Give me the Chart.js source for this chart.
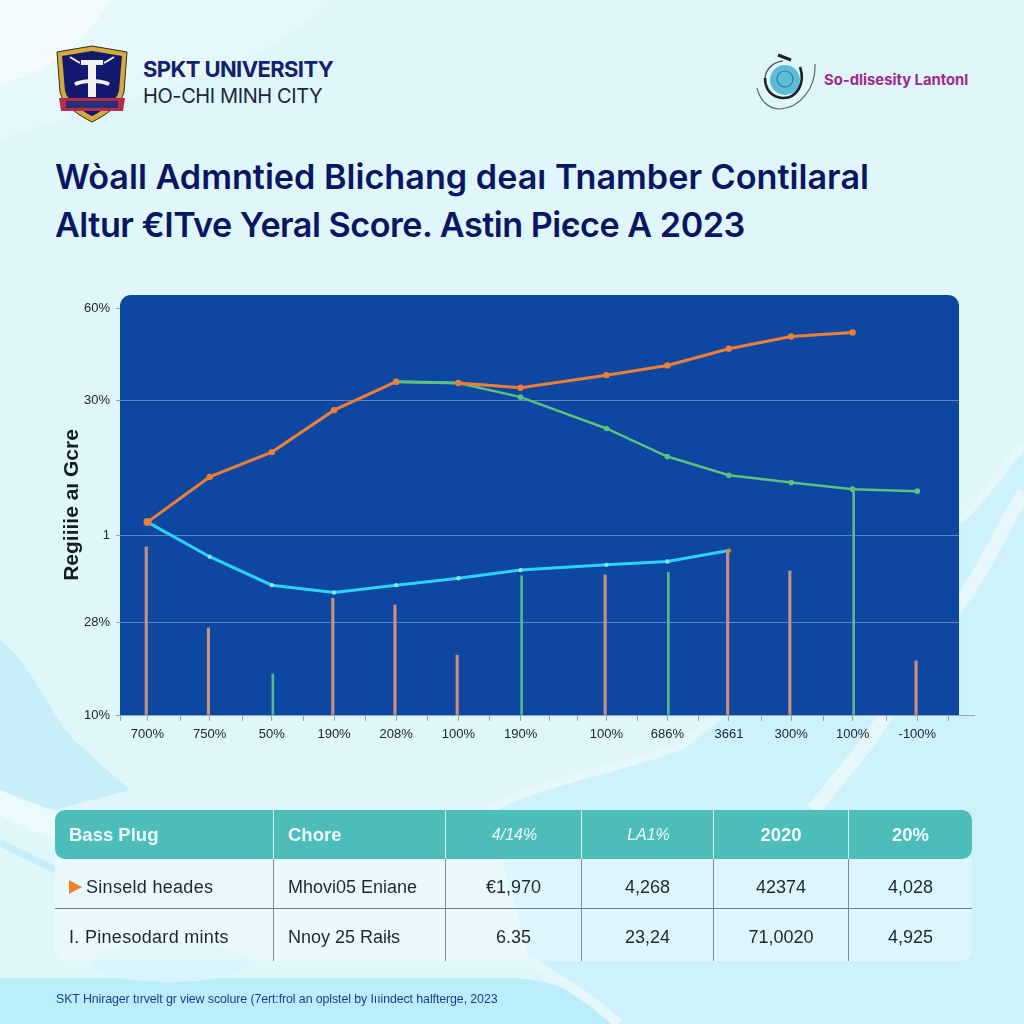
<!DOCTYPE html>
<html>
<head>
<meta charset="utf-8">
<title>SPKT chart</title>
<script src="https://cdn.jsdelivr.net/npm/chart.js@4"></script>
<style>
  html, body { margin: 0; padding: 0; }
  body { width: 1024px; height: 1024px; position: relative; overflow: hidden; font-family: "Liberation Sans", sans-serif; background: #dcf5fb; }
  .abs { position: absolute; white-space: nowrap; }
  #bg, #myChart { position: absolute; left: 0; top: 0; }
  .uni { left: 143px; top: 56px; font: 700 22px/26px Inter, sans-serif; color: #14216e; letter-spacing: -0.6px; }
  .city { left: 143px; top: 85px; font: 400 20px/22px Inter, sans-serif; color: #20263c; letter-spacing: -0.4px; }
  .partner { left: 824px; top: 71px; font: 700 14.8px/18px Inter, sans-serif; color: #a2298f; }
  .title { left: 55px; font: 600 34.2px/44px Inter, sans-serif; color: #0a1663; }
  table { position: absolute; left: 55px; top: 810px; width: 917px; border-collapse: separate; border-spacing: 0; table-layout: fixed; font-size: 18px; color: #1d2733; }
  th { height: 49px; background: #4cbdb9; color: #eefcfb; font-weight: 700; font-size: 18.5px; padding: 0; border-right: 1px solid #d8f2f0; }
  th:first-child { border-top-left-radius: 10px; border-bottom-left-radius: 10px; }
  th:last-child { border-top-right-radius: 10px; border-bottom-right-radius: 10px; border-right: 0; }
  td { padding: 0; background: rgba(255,255,255,.32); border-right: 1px solid #7d8c96; text-align: center; }
  td:last-child { border-right: 0; }
  tr.r1 td { height: 50px; padding-top: 7px; box-sizing: border-box; border-bottom: 1px solid #6f7d88; }
  tr.r2 td { height: 52px; padding-top: 5px; box-sizing: border-box; }
  tr.r2 td:first-child { border-bottom-left-radius: 10px; }
  tr.r2 td:last-child { border-bottom-right-radius: 10px; }
  table td.left, table th.left { text-align: left; padding-left: 14px; }
  th.ital { font-style: italic; font-weight: 400; font-size: 16px; padding-left: 2px; }
  .tri { display: inline-block; width: 0; height: 0; border-left: 13px solid #e8842c; border-top: 7px solid transparent; border-bottom: 7px solid transparent; margin-right: 4px; vertical-align: -1px; }
  .wide { letter-spacing: 0.3px; }
  .foot { left: 56px; top: 992px; font-size: 12.4px; line-height: 15px; color: #1c3d8f; letter-spacing: -0.1px; }
</style>
</head>
<body>

<svg id="bg" width="1024" height="1024" viewBox="0 0 1024 1024">
  <rect width="1024" height="1024" fill="#dff6fb"/>
  <path d="M0 0H110C80 50 50 70 0 85Z" fill="#f3fbfc"/>
  <path d="M0 85C50 70 80 50 110 0H330C270 70 120 100 0 140Z" fill="#e7f8fb"/>
  <!-- right hand blue area, under the panel and the table -->
  <path d="M1024 445C1000 470 980 505 959 520L683 745C620 770 540 780 489 810L530 962C570 985 600 1005 618 1024H1024Z" fill="#cdf2fc"/>
  <path d="M1024 445C1000 470 980 505 959 520L683 745C620 770 540 780 489 810" fill="none" stroke="#e6f8fc" stroke-width="8"/>
  <path d="M1024 493C1000 530 980 580 959 603L866 745L813 810" fill="none" stroke="#e6f8fc" stroke-width="14"/>
  <!-- left hand blue area -->
  <path d="M0 640C35 665 55 730 85 750C100 765 120 780 130 790L55 810C35 805 20 798 0 790Z" fill="#c8eefa"/>
  <path d="M0 790C20 798 35 805 55 812L55 840C35 832 20 825 0 815Z" fill="#eafafd"/>
  <path d="M0 843L55 870" fill="none" stroke="#c8eefa" stroke-width="7"/>
  <!-- bottom band -->
  <path d="M0 978H510C560 978 600 1005 618 1024H0Z" fill="#bbeefc"/>
  <path d="M530 962C570 985 600 1005 618 1024" fill="none" stroke="#e6f8fc" stroke-width="10"/>
  <ellipse cx="170" cy="962" rx="80" ry="20" fill="#d8f5fb"/>
</svg>

<svg class="abs" style="left:56px;top:45px" width="72" height="78" viewBox="0 0 72 78">
  <path d="M1 7L36 1L71 7L68 47C65 60 50 70 36 77C22 70 7 60 4 47Z" fill="#d5aa3c" stroke="#2a2a26" stroke-width="1"/>
  <path d="M6 11L36 6L66 11L63 46C60 57 48 65 36 71C24 65 12 57 9 46Z" fill="#12196e"/>
  <path d="M25 15H47V20H40V52H32V20H25Z" fill="#f2f2f2"/>
  <path d="M18 38C24 33 48 33 54 38L52 41C46 37 26 37 20 41Z" fill="#f2f2f2"/>
  <path d="M14 12L24 18M58 12L48 18" stroke="#f2f2f2" stroke-width="2"/>
  <path d="M3 53L69 53L67 66L5 66Z" fill="#b32b4d"/>
  <path d="M10 56H62V63H10Z" fill="#2a2f7a"/>
</svg>
<div class="abs uni">SPKT UNIVERSITY</div>
<div class="abs city">HO-CHI MINH CITY</div>

<svg class="abs" style="left:752px;top:50px" width="70" height="64" viewBox="0 0 70 64">
  <circle cx="33" cy="30" r="15" fill="#5fbcd9"/>
  <circle cx="33" cy="29" r="8" fill="none" stroke="#2f7f9c" stroke-width="1.2"/>
  <path d="M48 17C54 34 44 49 30 48C20 47 13 40 13 28" fill="none" stroke="#1f2226" stroke-width="2.6"/>
  <path d="M13 28C14 18 22 12 31 11" fill="none" stroke="#55606a" stroke-width="1.4"/>
  <path d="M26 5L39 10" stroke="#1f2226" stroke-width="3"/>
  <path d="M63 14C64 38 48 58 28 59C16 59 8 50 5 38" fill="none" stroke="#5c6770" stroke-width="1.2"/>
</svg>
<div class="abs partner">So-dlisesity Lantonl</div>

<div class="abs title" style="top:155px">Wòall Admntied Blichang deaı Tnamber Contilaral</div>
<div class="abs title" style="top:203px;letter-spacing:-0.5px">Altur €ITve Yeral Score. Astin Piєce A 2023</div>

<canvas id="myChart" width="1024" height="1024"></canvas>

<table>
  <colgroup>
    <col style="width:219px"><col style="width:172px"><col style="width:136px"><col style="width:132px"><col style="width:135px"><col style="width:123px">
  </colgroup>
  <tr>
    <th class="left">Bass Plug</th><th class="left">Chore</th><th class="ital">4/14%</th><th class="ital">LA1%</th><th>2020</th><th>20%</th>
  </tr>
  <tr class="r1">
    <td class="left wide"><span class="tri"></span>Sinseld heades</td><td class="left">Mhovi05 Eniane</td><td>€1,970</td><td>4,268</td><td>42374</td><td>4,028</td>
  </tr>
  <tr class="r2">
    <td class="left wide">I. Pinesodard mints</td><td class="left">Nnoy 25 Raiłs</td><td>6.35</td><td>23,24</td><td>71,0020</td><td>4,925</td>
  </tr>
</table>

<div class="abs foot">SKT Hnirager tırvelt gr view scolure (7ert:frol an oplstel by Iııindect halfterge, 2023</div>

<script>
// setup
const xPositions = [0, 1, 2, 3, 4, 5, 6, 7.38, 8.36, 9.35, 10.35, 11.34, 12.38];
const xLabels = ['700%', '750%', '50%', '190%', '208%', '100%', '190%', '100%', '686%', '3661', '300%', '100%', '-100%'];
const xMinorTicks = [-0.442, 0.53, 1.52, 2.51, 3.5, 4.5, 5.5, 6.46, 6.91, 7.88, 8.86, 9.87, 10.87, 11.88, 12.88];

const yPositions = [0, 22.85, 44.2, 77.4, 100];
const yLabels = ['10%', '28%', '1', '30%', '60%'];

const orangeLine = [47.4, 58.5, 64.6, 74.9, 81.9, 81.6, 80.4, 83.5, 85.9, 90, 93, 94, null];
const greenLine = [null, null, null, null, 81.9, 81.6, 78.1, 70.4, 63.5, 58.9, 57.1, 55.5, 55];
const cyanLine = [47.4, 38.9, 31.9, 30.1, 31.9, 33.6, 35.6, 36.9, 37.7, 40.4, null, null, null];
const orangeSpikes = [41.3, 21.4, null, 28.7, 27, 14.7, null, 34.4, null, 40.4, 35.4, null, 13.3];
const greenSpikes = [null, null, 10.1, null, null, null, 34.2, null, 35.1, null, null, 55.5, null];

const ORANGE = '#ec7f37';
const GREEN = '#5cc07e';
const CYAN = '#2bd3f7';

const toPoints = (vals) => vals
    .map((v, i) => ({ x: xPositions[i], y: v }))
    .filter((p) => p.y !== null);

const data = {
    datasets: [
        {
            type: 'line', label: 'orange', data: toPoints(orangeLine), order: 1,
            borderColor: ORANGE, backgroundColor: ORANGE, borderWidth: 3,
            pointRadius: (ctx) => (ctx.dataIndex === 0 ? 4 : 3.2), pointBorderWidth: 0,
            // the green line runs on top between these two points
            segment: { borderColor: (ctx) => (ctx.p0DataIndex === 4 ? GREEN : undefined) },
        },
        {
            type: 'line', label: 'green', data: toPoints(greenLine), order: 2,
            borderColor: GREEN, backgroundColor: GREEN, borderWidth: 2.5,
            pointRadius: 2.8, pointBorderWidth: 0,
        },
        {
            type: 'line', label: 'cyan', data: toPoints(cyanLine), order: 3,
            borderColor: CYAN, backgroundColor: (ctx) => (ctx.dataIndex === 9 ? ORANGE : '#86e6fb'), borderWidth: 3,
            pointRadius: (ctx) => (ctx.dataIndex === 0 ? 0 : 2.2), pointBorderWidth: 0,
        },
        { type: 'bar', label: 'orange spikes', data: toPoints(orangeSpikes), order: 4, backgroundColor: '#c98f80', barThickness: 2.5 },
        { type: 'bar', label: 'green spikes', data: toPoints(greenSpikes), order: 4, backgroundColor: '#55b892', barThickness: 2 },
    ]
};

// blue panel behind the plot, and the axis line that runs on past it
const panelPlugin = {
    id: 'panel',
    beforeDraw(chart) {
        const { ctx, chartArea: a } = chart;
        ctx.save();
        ctx.fillStyle = '#0d47a1';
        ctx.beginPath();
        ctx.roundRect(a.left, a.top, a.right - a.left, a.bottom - a.top, [11, 11, 0, 0]);
        ctx.fill();
        ctx.restore();
    },
    afterDraw(chart) {
        const { ctx, chartArea: a } = chart;
        ctx.save();
        ctx.strokeStyle = '#8ea6bd';
        ctx.lineWidth = 1;
        ctx.beginPath();
        ctx.moveTo(a.right, a.bottom + 0.5);
        ctx.lineTo(a.right + 16, a.bottom + 0.5);
        ctx.stroke();
        ctx.restore();
    }
};

// config
const config = {
    data,
    plugins: [panelPlugin],
    options: {
        responsive: false,
        animation: false,
        layout: { padding: { left: 60, top: 295, right: 65, bottom: 259 } },
        plugins: { legend: { display: false }, tooltip: { enabled: false } },
        scales: {
            x: {
                type: 'linear',
                offset: false,
                min: -0.442,
                max: 13.05,
                afterBuildTicks: (scale) => {
                    scale.ticks = xPositions.concat(xMinorTicks).sort((a, b) => a - b).map((value) => ({ value }));
                },
                afterFit: (scale) => { scale.height = 50; },
                grid: { offset: false, drawOnChartArea: false, tickLength: 6, tickColor: '#8ea6bd' },
                border: { color: '#8ea6bd' },
                ticks: {
                    autoSkip: false,
                    maxRotation: 0,
                    padding: 6,
                    color: '#20262c',
                    font: { family: '"Liberation Sans"', size: 13 },
                    callback: (value) => {
                        const i = xPositions.indexOf(value);
                        return i >= 0 ? xLabels[i] : '';
                    },
                },
            },
            y: {
                type: 'linear',
                min: 0,
                max: 103.2,
                afterBuildTicks: (scale) => {
                    scale.ticks = yPositions.map((value) => ({ value }));
                },
                afterFit: (scale) => { scale.width = 60; },
                title: {
                    display: true,
                    text: 'Regiiiie aı Gcre',
                    color: '#141c26',
                    font: { family: '"Liberation Sans"', size: 21, weight: 'bold' },
                    padding: 0,
                },
                grid: {
                    tickLength: 4,
                    tickColor: '#8ea6bd',
                    color: (ctx) => (ctx.tick.value === 100 || ctx.tick.value === 0 ? 'transparent' : '#5c85c8'),
                },
                border: { display: false },
                ticks: {
                    padding: 6,
                    color: '#20262c',
                    font: { family: '"Liberation Sans"', size: 13 },
                    callback: (value) => yLabels[yPositions.indexOf(value)],
                },
            },
        },
    }
};

// render init block
const myChart = new Chart(document.getElementById('myChart'), config);
</script>
</body>
</html>
